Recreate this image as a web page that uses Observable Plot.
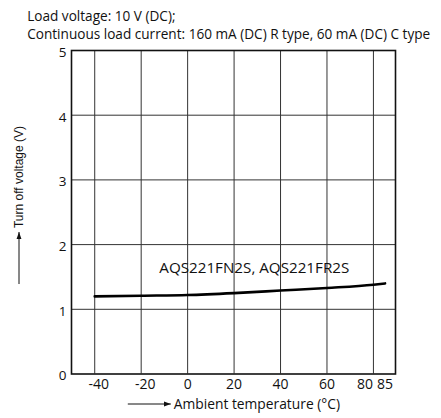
<!DOCTYPE html>
<html><head><meta charset="utf-8">
<script src="https://cdn.jsdelivr.net/npm/d3@7"></script>
<script src="https://cdn.jsdelivr.net/npm/@observablehq/plot@0.6"></script>
<style>body{margin:0;background:#fff}</style>
</head><body><div id="chart"></div>
<script>
const temps = [-40, -20, 0, 20, 40, 60, 80, 85];
const voltage = [1.20, 1.21, 1.22, 1.25, 1.29, 1.33, 1.38, 1.40];
const xTicks = [-40, -20, 0, 20, 40, 60, 80, 85];
const xGrid = [-40, -20, 0, 20, 40, 60, 80];
const yTicks = [0, 1, 2, 3, 4, 5];
const yGrid = [1, 2, 3, 4];
const titleLines = ["Load voltage: 10 V (DC);", "Continuous load current: 160 mA (DC) R type, 60 mA (DC) C type"];
const seriesLabel = "AQS221FN2S, AQS221FR2S";
const xLabel = "Ambient temperature (°C)";
const yLabel = "Turn off voltage (V)";

const data = temps.map((t, i) => ({t, v: voltage[i]}));
const font = "'Open Sans', sans-serif";

const chart = Plot.plot({
  width: 441, height: 418,
  marginTop: 50, marginBottom: 44.5, marginLeft: 71, marginRight: 46,
  style: {fontFamily: font, background: "#fff", color: "#111"},
  x: {domain: [-50, 89.5], axis: null},
  y: {domain: [0, 5], axis: null},
  marks: [
    Plot.ruleX(xGrid, {stroke: "#333", strokeWidth: 1}),
    Plot.ruleY(yGrid, {stroke: "#333", strokeWidth: 1}),
    Plot.frame({stroke: "#111", strokeWidth: 1.6}),
    Plot.line(data, {x: "t", y: "v", curve: "monotone-x", stroke: "#000", strokeWidth: 2.6}),
    Plot.text([seriesLabel], {x: 28.7, y: 1.64, text: d => d, fontSize: 15.2, fill: "#111"}),
    // x tick labels
    Plot.text(xTicks.filter(d => d < 0), {x: d => d, frameAnchor: "bottom", dy: 14.5, dx: 4, text: d => String(d), fontSize: 14}),
    Plot.text(xTicks.filter(d => d >= 0 && d !== 80), {x: d => d, frameAnchor: "bottom", dy: 14.5, text: d => String(d), fontSize: 14}),
    Plot.text(xTicks.filter(d => d === 80), {x: d => d, frameAnchor: "bottom", dy: 14.5, dx: -8.5, text: d => String(d), fontSize: 14}),
    // y tick labels
    Plot.text(yTicks, {y: d => d, frameAnchor: "left", dx: -5, dy: 2, textAnchor: "end", text: d => String(d), fontSize: 13.5}),
    // titles
    Plot.text([titleLines[0]], {frameAnchor: "top-left", dx: -44.3, dy: -39, textAnchor: "start", text: d => d, fontSize: 13.6}),
    Plot.text([titleLines[1]], {frameAnchor: "top-left", dx: -44.3, dy: -21.5, textAnchor: "start", text: d => d, fontSize: 13.6}),
    // axis labels
    Plot.text([xLabel], {frameAnchor: "bottom-left", dx: 102.3, dy: 34.5, textAnchor: "start", text: d => d, fontSize: 13.8}),
    Plot.text([yLabel], {frameAnchor: "left", text: d => d, fontSize: 12, fontFamily: "'Liberation Sans', Arial, sans-serif"})
  ]
});
document.getElementById("chart").append(chart);

// position rotated y label and add decorative arrows next to axis labels
const svg = d3.select(chart);
svg.append("defs").html('<marker id="ah" viewBox="0 0 10 10" refX="10" refY="5" markerWidth="7" markerHeight="7" orient="auto"><path d="M0,1.5L10,5L0,8.5z" fill="#111"/></marker>');
const s = chart.getBoundingClientRect();
svg.selectAll("text").each(function() {
  const t = this.textContent;
  if (t === xLabel) {
    const r = this.getBoundingClientRect();
    const cy = r.top - s.top + r.height / 2 + 1;
    const x0 = r.left - s.left;
    svg.append("line").attr("x1", x0 - 46).attr("x2", x0 - 3).attr("y1", cy).attr("y2", cy)
      .attr("stroke", "#111").attr("stroke-width", 1).attr("marker-end", "url(#ah)");
  } else if (t === yLabel) {
    d3.select(this).attr("x", null).attr("y", null).attr("dx", null).attr("dy", null)
      .attr("transform", "translate(18.5,176.5) rotate(-90)")
      .attr("text-anchor", "middle").attr("dominant-baseline", "central");
    const r = this.getBoundingClientRect();
    const cx = r.left - s.left + r.width / 2;
    const bottom = r.bottom - s.top;
    svg.append("line").attr("x1", cx).attr("x2", cx).attr("y1", bottom + 56).attr("y2", bottom + 4)
      .attr("stroke", "#111").attr("stroke-width", 1).attr("marker-end", "url(#ah)");
  }
});
</script>
</body></html>
